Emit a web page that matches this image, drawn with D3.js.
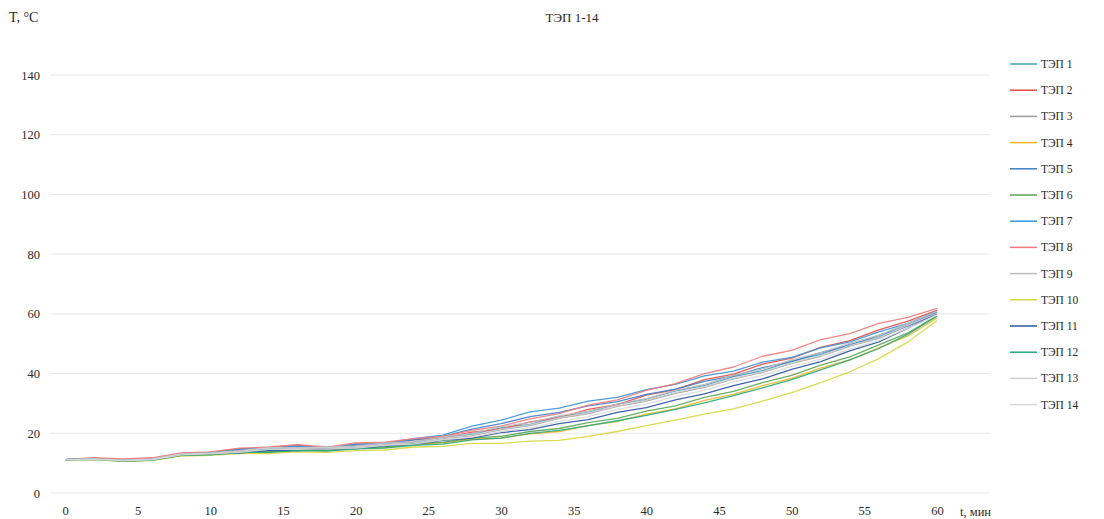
<!DOCTYPE html>
<html>
<head>
<meta charset="utf-8">
<script src="https://cdn.jsdelivr.net/npm/d3@7"></script>
<style>
  body { margin: 0; background: #fff; }
  text { font-family: "Liberation Serif", "DejaVu Serif", serif; fill: #2a2a2a; }
</style>
</head>
<body>
<div id="chart"></div>
<script>
// time, minutes
var times = [0,2,4,6,8,10,12,14,16,18,20,22,24,26,28,30,32,34,36,38,40,42,44,46,48,50,52,54,56,58,60];

var tep1  = [11.2,11.5,11.0,11.3,13.0,13.4,14.6,14.2,15.6,14.8,15.8,16.8,17.0,18.6,19.6,21.8,23.0,25.6,27.0,29.8,31.4,34.2,36.0,39.0,41.0,44.2,46.4,49.8,52.2,56.4,60.4];
var tep2  = [11.2,11.6,11.2,11.6,13.2,13.6,14.8,15.0,16.0,15.0,16.4,16.6,17.8,18.4,20.4,21.4,23.8,25.2,28.0,29.6,32.8,34.6,38.0,39.8,43.2,45.2,48.8,51.0,54.6,57.6,61.2];
var tep3  = [11.2,11.4,10.9,11.2,12.9,13.2,13.8,14.8,14.8,15.0,15.2,16.2,16.6,18.2,19.2,21.2,22.6,25.0,26.6,29.0,30.8,33.4,35.4,38.2,40.4,43.4,45.8,49.2,51.8,56.0,60.0];
var tep4  = [11.2,11.3,10.8,11.0,12.6,12.9,13.6,13.6,14.4,14.2,15.0,15.2,16.4,16.8,18.0,18.4,19.8,20.6,22.6,24.0,26.4,28.2,31.0,33.0,36.0,38.4,41.8,44.6,48.6,52.6,58.6];
var tep5  = [11.2,11.4,10.8,11.3,13.0,13.4,14.4,14.6,15.4,15.0,16.0,16.4,17.8,19.0,21.4,23.2,25.6,27.0,29.2,30.6,33.0,34.8,37.4,39.2,42.0,44.0,47.0,49.4,52.8,56.0,60.6];
var tep6  = [11.2,11.3,10.6,10.9,12.6,12.9,13.7,13.8,14.6,14.2,15.1,15.4,16.6,17.0,18.4,19.0,20.6,21.6,23.6,25.0,27.4,29.2,32.0,34.0,37.0,39.4,42.8,45.6,49.6,53.6,59.4];
var tep7  = [11.2,11.5,10.9,11.4,13.2,13.6,14.8,15.0,15.8,15.2,16.4,16.6,18.2,19.4,22.4,24.4,27.2,28.4,30.8,32.0,34.6,36.4,39.2,40.8,43.8,45.4,48.6,50.6,54.0,56.8,60.8];
var tep8  = [11.2,11.8,11.4,11.8,13.4,13.8,15.0,15.4,16.2,15.4,16.8,17.0,18.2,19.0,21.0,22.4,24.8,26.6,29.4,31.2,34.4,36.6,40.0,42.2,45.8,47.8,51.4,53.4,56.8,58.8,61.8];
var tep9  = [11.2,11.5,11.0,11.4,13.1,13.5,14.2,15.2,15.2,15.4,15.8,16.8,17.2,18.8,20.0,22.2,23.6,25.8,27.4,29.8,31.6,34.4,36.4,39.4,41.6,44.6,47.0,50.2,52.8,56.8,60.8];
var tep10 = [11.2,11.2,10.6,10.9,12.4,12.6,13.2,13.2,13.8,13.6,14.2,14.4,15.4,15.6,16.6,16.6,17.4,17.6,19.0,20.6,22.6,24.4,26.4,28.2,30.8,33.6,37.0,40.6,45.0,50.6,57.8];
var tep11 = [11.2,11.4,10.8,11.1,12.7,13.0,13.4,14.2,14.2,14.8,14.8,15.8,16.2,17.6,18.4,20.2,21.2,23.2,24.6,27.0,28.6,31.2,33.2,36.0,38.2,41.4,44.0,47.6,50.6,55.2,60.2];
var tep12 = [11.2,11.3,10.7,11.0,12.6,12.8,13.6,13.6,14.2,14.0,14.8,15.0,16.0,16.4,17.8,18.4,20.0,21.0,22.6,24.2,26.0,28.0,30.2,32.6,35.2,38.0,41.2,44.6,48.4,53.2,59.2];
var tep13 = [11.2,11.4,11.0,11.3,13.0,13.3,14.0,15.0,15.0,15.2,15.4,16.4,16.8,18.4,19.4,21.4,22.8,25.2,26.8,29.2,31.0,33.6,35.6,38.4,40.6,43.6,46.0,49.4,52.0,56.2,60.2];
var tep14 = [11.2,11.3,10.8,11.1,12.8,13.1,13.6,14.6,14.6,14.8,15.0,16.0,16.4,17.8,18.7,20.6,21.8,24.0,25.6,28.0,29.8,32.4,34.4,37.2,39.4,42.4,44.8,48.2,51.0,55.2,59.6];

var seriesNames = ["ТЭП 1","ТЭП 2","ТЭП 3","ТЭП 4","ТЭП 5","ТЭП 6","ТЭП 7","ТЭП 8","ТЭП 9","ТЭП 10","ТЭП 11","ТЭП 12","ТЭП 13","ТЭП 14"];
var seriesValues = [tep1,tep2,tep3,tep4,tep5,tep6,tep7,tep8,tep9,tep10,tep11,tep12,tep13,tep14];
var seriesColors = ["#4a9cc0","#e04a4a","#9a9a9a","#f0b428","#3f7fc8","#5aa65a","#3a95d8","#f07a7a","#bcbcbc","#d6d640","#2a55a0","#2ea878","#cfcfcf","#d8d8d8"];

var xTicks = [0,5,10,15,20,25,30,35,40,45,50,55,60];
var yTicks = [0,20,40,60,80,100,120,140];

var width = 1104, height = 519;
var svg = d3.select("#chart").append("svg")
    .attr("width", width)
    .attr("height", height);

var x = d3.scaleLinear().domain([0, 60]).range([65, 937]);
var y = d3.scaleLinear().domain([0, 140]).range([493, 75]);

// grid
svg.append("g")
    .selectAll("line")
    .data(yTicks)
    .enter().append("line")
    .attr("x1", 50)
    .attr("x2", 990)
    .attr("y1", function (d) { return y(d); })
    .attr("y2", function (d) { return y(d); })
    .attr("stroke", "#e8e8e8")
    .attr("stroke-width", 1);

// y axis labels
var yAxis = svg.append("g")
    .attr("transform", "translate(46,0)")
    .call(d3.axisLeft(y).tickValues(yTicks).tickSize(0).tickPadding(6));
yAxis.select(".domain").remove();
yAxis.selectAll("text")
    .style("font-size", "12.5px")
    .style("font-family", "Liberation Serif, serif")
    .attr("fill", "#2a2a2a");

// x axis labels
var xAxis = svg.append("g")
    .attr("transform", "translate(0,503)")
    .call(d3.axisBottom(x).tickValues(xTicks).tickSize(0).tickPadding(3));
xAxis.select(".domain").remove();
xAxis.selectAll("text")
    .style("font-size", "12.5px")
    .style("font-family", "Liberation Serif, serif")
    .attr("fill", "#2a2a2a");

svg.append("text")
    .attr("x", 960)
    .attr("y", 516)
    .style("font-size", "12.5px")
    .text("t, мин");

svg.append("text")
    .attr("x", 9)
    .attr("y", 22)
    .style("font-size", "14px")
    .text("T, °C");

svg.append("text")
    .attr("x", 572)
    .attr("y", 22)
    .attr("text-anchor", "middle")
    .style("font-size", "13px")
    .text("ТЭП 1-14");

// lines
var line = d3.line()
    .x(function (d, i) { return x(times[i]); })
    .y(function (d) { return y(d); });

svg.append("g")
    .selectAll("path")
    .data(seriesValues)
    .enter().append("path")
    .attr("d", function (d) { return line(d); })
    .attr("fill", "none")
    .attr("stroke", function (d, i) { return seriesColors[i]; })
    .attr("stroke-width", 1.3)
    .attr("stroke-linejoin", "round")
    .attr("stroke-opacity", 0.9);

// legend
var legend = svg.append("g")
    .selectAll("g")
    .data(seriesNames)
    .enter().append("g")
    .attr("transform", function (d, i) { return "translate(1010," + (64 + i * 26.2) + ")"; });

legend.append("line")
    .attr("x1", 0)
    .attr("x2", 27)
    .attr("stroke", function (d, i) { return seriesColors[i]; })
    .attr("stroke-width", 1.5);

legend.append("text")
    .attr("x", 31)
    .attr("y", 4)
    .style("font-size", "11.5px")
    .text(function (d) { return d; });
</script>
</body>
</html>
